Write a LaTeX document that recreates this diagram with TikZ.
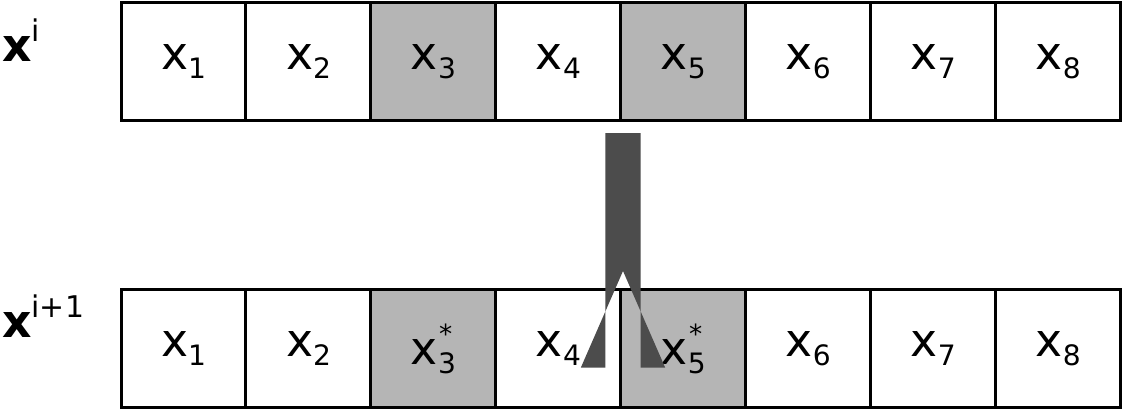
\documentclass[tikz,border=0pt]{standalone}
\usepackage{fontspec}
\setmainfont{DejaVu Sans}
\usetikzlibrary{positioning, arrows.meta}
\tikzset{
    x=0.02cm, y=-0.02cm,
    cell/.style={draw, line width=1.7pt, minimum width=2.5cm, minimum height=2.38cm, inner sep=0pt, outer sep=0pt, fill=white}, % one box of the row
    hit/.style={cell, fill=gray!58}, % shaded boxes
    rowlabel/.style={font=\fontsize{26}{26}\selectfont, anchor=west},
}
\newcommand{\cx}[2]{{\fontsize{26}{26}\selectfont x}\raisebox{-5pt}{\fontsize{16}{16}\selectfont #1}\llap{\raisebox{12pt}{\fontsize{15}{15}\selectfont #2}\hspace{2pt}}}

\begin{document}
\begin{tikzpicture}
    \useasboundingbox (0,0) rectangle (1123,409);
    % top row
    \node[cell] (t1) at (183.5,61.5) {\cx{1}{}};
    \node[cell, right=0pt of t1] (t2) {\cx{2}{}};
    \node[hit, right=0pt of t2] (t3) {\cx{3}{}};
    \node[cell, right=0pt of t3] (t4) {\cx{4}{}};
    \node[hit, right=0pt of t4] (t5) {\cx{5}{}};
    \node[cell, right=0pt of t5] (t6) {\cx{6}{}};
    \node[cell, right=0pt of t6] (t7) {\cx{7}{}};
    \node[cell, right=0pt of t7] (t8) {\cx{8}{}};
    % bottom row
    \node[cell] (b1) at (183.5,348.5) {\cx{1}{}};
    \node[cell, right=0pt of b1] (b2) {\cx{2}{}};
    \node[hit, right=0pt of b2] (b3) {\cx{3}{*}};
    \node[cell, right=0pt of b3] (b4) {\cx{4}{}};
    \node[hit, right=0pt of b4] (b5) {\cx{5}{*}};
    \node[cell, right=0pt of b5] (b6) {\cx{6}{}};
    \node[cell, right=0pt of b6] (b7) {\cx{7}{}};
    \node[cell, right=0pt of b7] (b8) {\cx{8}{}};
    \node[rowlabel] (lt) at (-4,40) {$\mathbf{x}$\raisebox{11pt}{\fontsize{17}{17}\selectfont i}};
    \node[rowlabel] (lb) at (-4,316) {$\mathbf{x}$\raisebox{11pt}{\fontsize{17}{17}\selectfont i+1}};
    % the big arrow
    \coordinate (as) at (623,133);
    \coordinate (ae) at (623,271);
    \fill[black!70] ([xshift=-10]as) -- ([xshift=10]as) -- ([xshift=10,yshift=-55]ae)
        -- ([xshift=24,yshift=-55]ae) -- (ae) -- ([xshift=-24,yshift=-55]ae)
        -- ([xshift=-10,yshift=-55]ae) -- cycle;
\end{tikzpicture}
\end{document}
